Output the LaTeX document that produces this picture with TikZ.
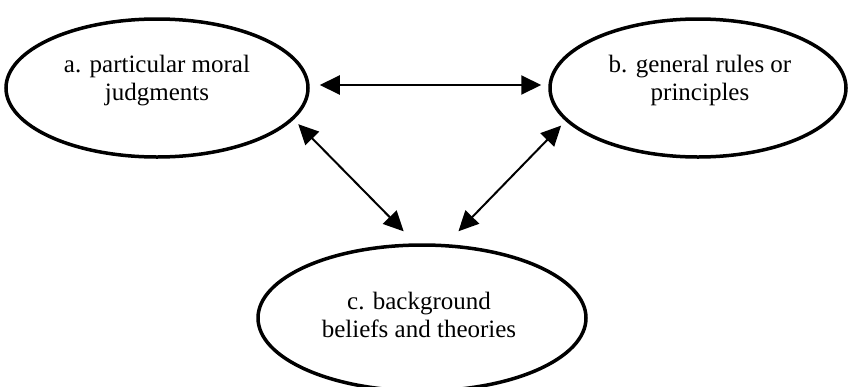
\documentclass[tikz,border=0pt]{standalone}
\usepackage{fontspec}
\setmainfont{Liberation Serif}
\usetikzlibrary{arrows.meta,shapes.geometric}
\begin{document}
\begin{tikzpicture}[x=1pt,y=-1pt,
  oval/.style={draw=black,line width=3.5pt,ellipse,inner sep=0pt},
  lbl/.style={align=center,font=\fontsize{25}{28}\selectfont,inner sep=0pt},
  link/.style={line width=2pt,{Triangle[length=20pt,width=19pt]}-{Triangle[length=20pt,width=19pt]}}]
\useasboundingbox (0,0) rectangle (850,386);
\node[oval,minimum width=302pt,minimum height=138pt] (a) at (157,88) {};
\node[oval,minimum width=296pt,minimum height=138pt] (b) at (698,88) {};
\node[oval,minimum width=328pt,minimum height=146pt] (c) at (422,318) {};
\node[lbl] (at) at (157,81) {a. particular moral\\judgments};
\node[lbl] (bt) at (700,80) {b. general rules or\\principles};
\node[lbl] (ct) at (419,315) {c. background\\beliefs and theories};
\draw[link,shorten <=10pt,shorten >=7pt] ([yshift=3pt]a.east) -- ([yshift=3pt]b.west);
\draw[link,shorten <=6.5pt,shorten >=16.8pt] (a.-13) -- (c.95.6);
\draw[link,shorten <=6.4pt,shorten >=17.8pt] (b.-166.1) -- (c.72.7);
\end{tikzpicture}
\end{document}
